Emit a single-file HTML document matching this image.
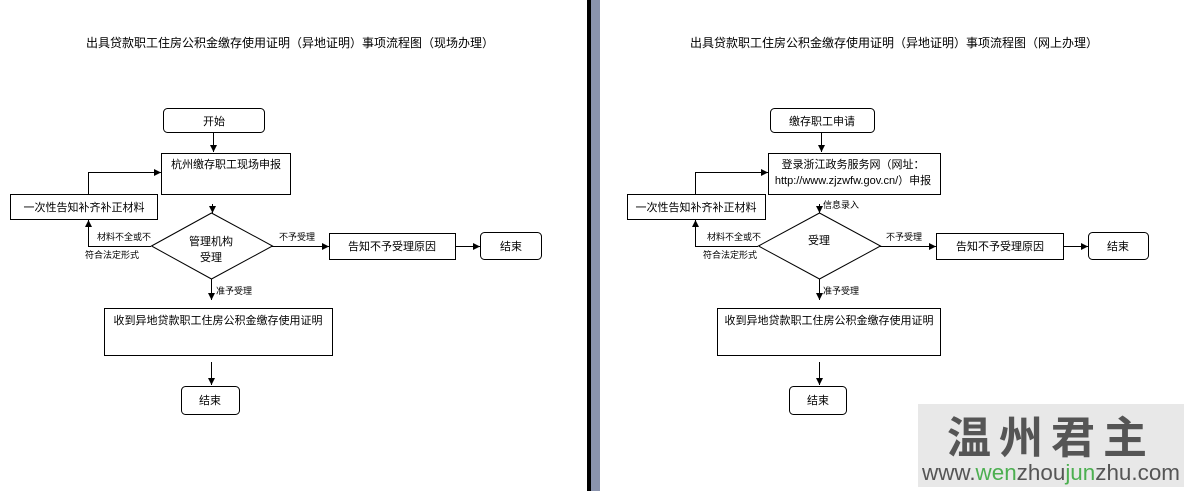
<!DOCTYPE html>
<html><head><meta charset="utf-8"><style>
html,body{margin:0;padding:0;background:#fff;}
body{width:1186px;height:491px;overflow:hidden;position:relative;font-family:"Liberation Sans","Noto Sans CJK SC",sans-serif;}
svg text{font-family:"Liberation Sans","Noto Sans CJK SC",sans-serif;fill:#000;}
</style></head><body>
<svg width="1186" height="491" xmlns="http://www.w3.org/2000/svg" style="position:absolute;left:0;top:0">
<defs><marker id="a" markerWidth="8" markerHeight="8" refX="7" refY="4" orient="auto" markerUnits="userSpaceOnUse"><path d="M0,0.5 L7,4 L0,7.5z" fill="#000"/></marker></defs>
<rect x="587" y="0" width="4" height="491" fill="#000"/>
<rect x="591" y="0" width="9" height="491" fill="#8a93ad"/>
<g stroke="#000" stroke-width="1" fill="none">
<rect x="163.5" y="108.5" width="101" height="24" rx="4"/>
<rect x="161.5" y="153.5" width="129" height="41"/>
<rect x="10.5" y="194.5" width="147" height="25"/>
<path d="M151.5,246 L211.5,213 L272.5,246 L211.5,279z"/>
<rect x="329.5" y="233.5" width="126" height="26"/>
<rect x="480.5" y="232.5" width="61" height="27" rx="4"/>
<rect x="104.5" y="308.5" width="228" height="47"/>
<rect x="181.5" y="386.5" width="58" height="28" rx="4"/>
<path d="M213.5,132 V152" marker-end="url(#a)"/>
<path d="M212.5,204 V213" marker-end="url(#a)"/>
<path d="M88.5,194 V172.5 H161" marker-end="url(#a)"/>
<path d="M151,246.5 H88.5 V220" marker-end="url(#a)"/>
<path d="M272,246.5 H329" marker-end="url(#a)"/>
<path d="M455,246.5 H480" marker-end="url(#a)"/>
<path d="M211.5,279 V300" marker-end="url(#a)"/>
<path d="M211.5,362 V385" marker-end="url(#a)"/>
<rect x="770.5" y="108.5" width="104" height="24" rx="4"/>
<rect x="768.5" y="153.5" width="172" height="41"/>
<rect x="627.5" y="194.5" width="138" height="25"/>
<path d="M758.5,246 L819.5,213 L880.5,246 L819.5,279z"/>
<rect x="936.5" y="233.5" width="127" height="26"/>
<rect x="1088.5" y="232.5" width="60" height="27" rx="4"/>
<rect x="717.5" y="308.5" width="223" height="47"/>
<rect x="789.5" y="386.5" width="57" height="28" rx="4"/>
<path d="M821.5,132 V152" marker-end="url(#a)"/>
<path d="M819.5,204 V213" marker-end="url(#a)"/>
<path d="M695.5,194 V172.5 H768" marker-end="url(#a)"/>
<path d="M758,246.5 H695.5 V220" marker-end="url(#a)"/>
<path d="M880,246.5 H936" marker-end="url(#a)"/>
<path d="M1063,246.5 H1088" marker-end="url(#a)"/>
<path d="M819.5,279 V300" marker-end="url(#a)"/>
<path d="M819.5,362 V385" marker-end="url(#a)"/>
</g>
<g font-size="11">
<text x="290" y="47" text-anchor="middle" font-size="12">出具贷款职工住房公积金缴存使用证明（异地证明）事项流程图（现场办理）</text>
<text x="214" y="125" text-anchor="middle">开始</text>
<text x="226" y="168" text-anchor="middle">杭州缴存职工现场申报</text>
<text x="84" y="211" text-anchor="middle">一次性告知补齐补正材料</text>
<text x="211" y="245" text-anchor="middle">管理机构</text>
<text x="211" y="261" text-anchor="middle">受理</text>
<text x="392" y="250" text-anchor="middle">告知不予受理原因</text>
<text x="511" y="250" text-anchor="middle">结束</text>
<text x="218" y="324" text-anchor="middle">收到异地贷款职工住房公积金缴存使用证明</text>
<text x="210" y="404" text-anchor="middle">结束</text>
<g font-size="9"><text x="97" y="240">材料不全或不</text><text x="85" y="258">符合法定形式</text>
<text x="279" y="240">不予受理</text><text x="216" y="294">准予受理</text></g>
<text x="894" y="47" text-anchor="middle" font-size="12">出具贷款职工住房公积金缴存使用证明（异地证明）事项流程图（网上办理）</text>
<text x="822" y="125" text-anchor="middle">缴存职工申请</text>
<text x="853" y="168" text-anchor="middle">登录浙江政务服务网（网址：</text>
<text x="853" y="184" text-anchor="middle">http://www.zjzwfw.gov.cn/）申报</text>
<text x="696" y="211" text-anchor="middle">一次性告知补齐补正材料</text>
<text x="819" y="244" text-anchor="middle">受理</text>
<text x="1000" y="250" text-anchor="middle">告知不予受理原因</text>
<text x="1118" y="250" text-anchor="middle">结束</text>
<text x="829" y="324" text-anchor="middle">收到异地贷款职工住房公积金缴存使用证明</text>
<text x="818" y="404" text-anchor="middle">结束</text>
<g font-size="9"><text x="707" y="240">材料不全或不</text><text x="703" y="258">符合法定形式</text>
<text x="886" y="240">不予受理</text><text x="823" y="294">准予受理</text><text x="823" y="208">信息录入</text></g>
</g>
<rect x="918" y="404" width="266" height="83" fill="#e8e8e8"/>
<text x="947" y="453" font-size="44" textLength="200" lengthAdjust="spacing" style="fill:#555;font-family:'Noto Sans CJK SC',sans-serif;font-weight:bold">温州君主</text>
<text x="922" y="480" font-size="22" textLength="258" lengthAdjust="spacingAndGlyphs" style="fill:#555">www.<tspan style="fill:#4caf50">wen</tspan>zhou<tspan style="fill:#4caf50">jun</tspan>zhu.com</text>
</svg>
</body></html>
